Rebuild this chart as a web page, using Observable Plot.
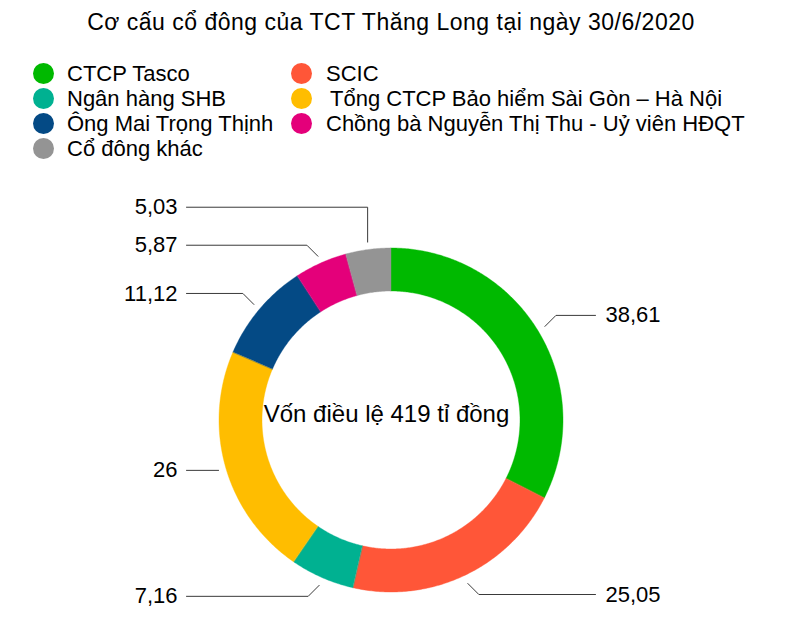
<!DOCTYPE html>
<html>
<head>
<meta charset="utf-8">
<script src="https://cdn.jsdelivr.net/npm/d3@7"></script>
<script src="https://cdn.jsdelivr.net/npm/@observablehq/plot@0.6"></script>
<style>
  body { margin: 0; background: #fff; font-family: "Liberation Sans", Arial, Helvetica, sans-serif; color: #000; }
  #wrap { position: relative; width: 801px; height: 643px; overflow: hidden; }
  #title { position: absolute; left: 0; top: 9px; width: 782px; text-align: center; font-size: 23px; line-height: 26px; letter-spacing: 0.5px; }
  .item { position: absolute; font-size: 22px; line-height: 24px; white-space: pre; }
  .dot { position: absolute; width: 21px; height: 21px; border-radius: 50%; }
  #chart { position: absolute; left: 0; top: 165px; }
</style>
</head>
<body>
<div id="wrap">
  <div id="title"></div>
  <div id="legend"></div>
  <div id="chart"></div>
</div>
<script>
// ---- data ----
const titleText = "Cơ cấu cổ đông của TCT Thăng Long tại ngày 30/6/2020";
const centerText = "Vốn điều lệ 419 tỉ đồng";
const categories = [
  "CTCP Tasco",
  "SCIC",
  "Ngân hàng SHB",
  "Tổng CTCP Bảo hiểm Sài Gòn – Hà Nội",
  "Ông Mai Trọng Thịnh",
  "Chồng bà Nguyễn Thị Thu - Uỷ viên HĐQT",
  "Cổ đông khác"
];
const values = [38.61, 25.05, 7.16, 26, 11.12, 5.87, 5.03];
const valueLabels = ["38,61", "25,05", "7,16", "26", "11,12", "5,87", "5,03"];
const colors = ["#00b900", "#ff5638", "#00b191", "#ffbd00", "#044a85", "#e4007a", "#949494"];

document.getElementById("title").textContent = titleText;

// ---- legend (HTML above the SVG) ----
const legend = document.getElementById("legend");
categories.forEach((c, i) => {
  const col = i % 2, row = Math.floor(i / 2);
  const cx = col === 0 ? 43 : 301;
  const tx = col === 0 ? 67 : 326;
  const cy = 73 + row * 25;
  const dot = document.createElement("div");
  dot.className = "dot";
  dot.style.left = (cx - 10.5) + "px";
  dot.style.top = (cy - 10.5) + "px";
  dot.style.background = colors[i];
  legend.appendChild(dot);
  const t = document.createElement("div");
  t.className = "item";
  t.style.left = (tx + (i === 3 ? 4 : 0)) + "px";
  t.style.top = (cy - 11) + "px";
  t.textContent = c;
  legend.appendChild(t);
});

// ---- geometry ----
const W = 801, H = 478;
const cxPix = 391, cyPix = 255;         // donut centre inside the SVG
const R = 172, r0 = 129;                // outer / inner radius
const rLead = 180, kink = 11;
const endL = -205, endR = 204, labL = -214, labR = 214;

const arcs = d3.pie().sort(null).value(d => d)(values);

const ringPts = [];
arcs.forEach((a, i) => {
  const n = Math.max(2, Math.ceil((a.endAngle - a.startAngle) / 0.01));
  for (let k = 0; k <= n; k++) {
    const t = a.startAngle + (a.endAngle - a.startAngle) * k / n;
    ringPts.push({
      cat: categories[i],
      x1: R * Math.sin(t), y1: -R * Math.cos(t),
      x2: r0 * Math.sin(t), y2: -r0 * Math.cos(t)
    });
  }
});

// leader layout
const lab = arcs.map((a, i) => {
  const m = (a.startAngle + a.endAngle) / 2;
  const sx = rLead * Math.sin(m), sy = -rLead * Math.cos(m);
  const side = Math.sin(m) >= 0 ? 1 : -1;
  const horiz = Math.abs(Math.cos(m)) < 0.3;
  const ly = horiz ? sy : sy + (Math.cos(m) > 0 ? -kink : kink);
  return { i, m, sx, sy, side, horiz, ly, want: ly };
});
// resolve collisions per side (min gap)
[-1, 1].forEach(s => {
  const group = lab.filter(d => d.side === s).sort((a, b) => b.ly - a.ly);
  for (let k = 1; k < group.length; k++) {
    if (group[k].ly > group[k - 1].ly - 38) group[k].ly = group[k - 1].ly - 38;
  }
});
const leaderPts = [];
lab.forEach(d => {
  const endX = d.side > 0 ? endR : endL;
  leaderPts.push({ id: d.i, x: d.sx, y: d.sy });
  if (!d.horiz) {
    if (Math.abs(d.ly - d.want) > 0.5) leaderPts.push({ id: d.i, x: d.sx, y: d.ly });
    else leaderPts.push({ id: d.i, x: d.sx + d.side * kink, y: d.ly });
  }
  leaderPts.push({ id: d.i, x: endX, y: d.ly });
});
const labelRows = lab.map(d => ({
  text: valueLabels[d.i],
  x: d.side > 0 ? labR : labL,
  y: d.ly,
  anchor: d.side > 0 ? "start" : "end"
}));

const plot = Plot.plot({
  width: W, height: H,
  margin: 0,
  style: { fontFamily: "'Liberation Sans', Arial, Helvetica, sans-serif", background: "#fff" },
  x: { domain: [-cxPix, W - cxPix], range: [0, W], axis: null },
  y: { domain: [-cyPix, H - cyPix], range: [0, H], axis: null },
  color: { domain: categories, range: colors },
  marks: [
    Plot.area(ringPts, { x1: "x1", y1: "y1", x2: "x2", y2: "y2", z: "cat", fill: "cat", stroke: "cat", strokeWidth: 0.4, curve: "linear" }),
    Plot.line(leaderPts, { x: "x", y: "y", z: "id", stroke: "#3a3a3a", strokeWidth: 1, curve: "linear" }),
    Plot.text(labelRows.filter(d => d.anchor === "start"), { x: "x", y: "y", text: "text", textAnchor: "start", fontSize: 22, fill: "#000" }),
    Plot.text(labelRows.filter(d => d.anchor === "end"), { x: "x", y: "y", text: "text", textAnchor: "end", fontSize: 22, fill: "#000" }),
    Plot.text([centerText], { x: () => 0, y: () => 0, text: d => d, dx: -5, dy: -6, fontSize: 24, fill: "#000" })
  ]
});
document.getElementById("chart").appendChild(plot);
</script>
</body>
</html>
